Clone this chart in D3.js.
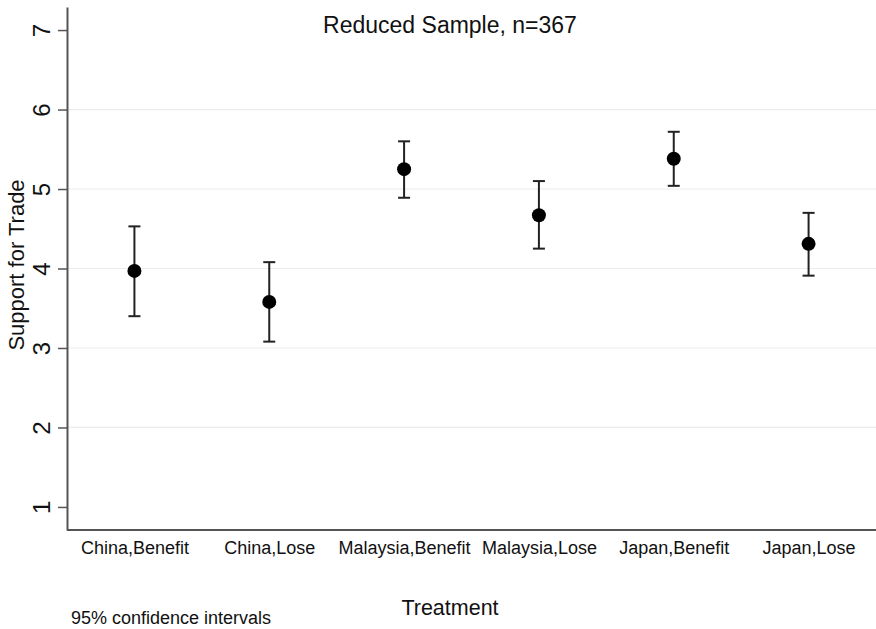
<!DOCTYPE html>
<html>
<head>
<meta charset="utf-8">
<script src="https://cdn.jsdelivr.net/npm/d3@7"></script>
<style>
  body { margin: 0; background: #fff; }
  text { font-family: Arial, "Liberation Sans", sans-serif; fill: #111; }
</style>
</head>
<body>
<script>
(function(){

    //data
    var categories = ["China,Benefit", "China,Lose", "Malaysia,Benefit", "Malaysia,Lose", "Japan,Benefit", "Japan,Lose"];
    var means = [3.97, 3.58, 5.25, 4.67, 5.38, 4.31];
    var lower = [3.40, 3.08, 4.89, 4.25, 5.04, 3.91];
    var upper = [4.53, 4.08, 5.60, 5.10, 5.72, 4.70];
    var yTicks = [1, 2, 3, 4, 5, 6, 7];
    var gridTicks = [2, 3, 4, 5, 6];

    var width = 876, height = 629;
    var left = 67, right = 876, top = 7, bottom = 530;

    var svg = d3.select("body").append("svg")
        .attr("width", width)
        .attr("height", height);

    //scales
    var x = d3.scalePoint()
        .domain(categories)
        .range([left, right])
        .padding(0.5);

    var y = d3.scaleLinear()
        .domain([0.71, 7.29])
        .range([bottom, top]);

    //gridlines
    svg.selectAll(".grid")
        .data(gridTicks)
        .enter()
        .append("line")
        .attr("x1", left)
        .attr("x2", right)
        .attr("y1", function(d){ return y(d); })
        .attr("y2", function(d){ return y(d); })
        .attr("stroke", "#ececec")
        .attr("stroke-width", 1.2);

    //y axis
    var yAxis = svg.append("g")
        .attr("transform", "translate(" + left + ",0)")
        .call(d3.axisLeft(y).tickValues(yTicks).tickSize(9).tickSizeOuter(0).tickFormat(d3.format("d")));
    yAxis.select(".domain").attr("stroke", "#555").attr("stroke-width", 2);
    yAxis.selectAll(".tick line").attr("stroke", "#555").attr("stroke-width", 1.5);
    yAxis.selectAll(".tick text")
        .style("font-size", "24px")
        .attr("fill", "#111")
        .attr("transform", "rotate(-90)")
        .attr("x", 0)
        .attr("y", -17)
        .attr("dy", "0")
        .attr("text-anchor", "middle");

    //x axis
    var xAxis = svg.append("g")
        .attr("transform", "translate(0," + bottom + ")")
        .call(d3.axisBottom(x).tickSize(0).tickSizeOuter(0));
    xAxis.select(".domain")
        .attr("d", "M" + left + ",0H" + right)
        .attr("stroke", "#555").attr("stroke-width", 2);
    xAxis.selectAll(".tick text")
        .style("font-size", "18px")
        .attr("fill", "#111")
        .attr("y", 24)
        .attr("dy", "0");

    //error bars
    var capW = 6;
    var bars = svg.selectAll(".ci")
        .data(categories)
        .enter()
        .append("g")
        .attr("class", "ci");
    bars.append("line")
        .attr("x1", function(d){ return x(d); })
        .attr("x2", function(d){ return x(d); })
        .attr("y1", function(d, i){ return y(lower[i]); })
        .attr("y2", function(d, i){ return y(upper[i]); })
        .attr("stroke", "#222").attr("stroke-width", 2);
    bars.append("line")
        .attr("x1", function(d){ return x(d) - capW; })
        .attr("x2", function(d){ return x(d) + capW; })
        .attr("y1", function(d, i){ return y(upper[i]); })
        .attr("y2", function(d, i){ return y(upper[i]); })
        .attr("stroke", "#222").attr("stroke-width", 2);
    bars.append("line")
        .attr("x1", function(d){ return x(d) - capW; })
        .attr("x2", function(d){ return x(d) + capW; })
        .attr("y1", function(d, i){ return y(lower[i]); })
        .attr("y2", function(d, i){ return y(lower[i]); })
        .attr("stroke", "#222").attr("stroke-width", 2);

    //points
    svg.selectAll(".pt")
        .data(categories)
        .enter()
        .append("circle")
        .attr("cx", function(d){ return x(d); })
        .attr("cy", function(d, i){ return y(means[i]); })
        .attr("r", 7)
        .attr("fill", "#000");

    //titles
    svg.append("text")
        .attr("x", 450).attr("y", 33)
        .attr("text-anchor", "middle")
        .style("font-size", "23px")
        .text("Reduced Sample, n=367");

    svg.append("text")
        .attr("transform", "translate(24,265) rotate(-90)")
        .attr("text-anchor", "middle")
        .style("font-size", "22px")
        .text("Support for Trade");

    svg.append("text")
        .attr("x", 450).attr("y", 615)
        .attr("text-anchor", "middle")
        .style("font-size", "21.5px")
        .text("Treatment");

    svg.append("text")
        .attr("x", 71).attr("y", 624)
        .style("font-size", "18px")
        .text("95% confidence intervals");

})();
</script>
</body>
</html>
